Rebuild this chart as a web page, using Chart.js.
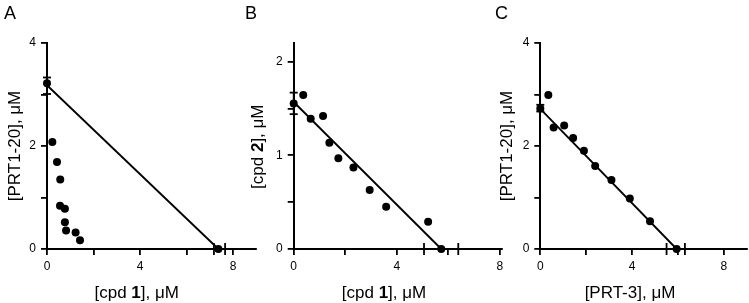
<!DOCTYPE html>
<html>
<head>
<meta charset="utf-8">
<script src="https://cdn.jsdelivr.net/npm/chart.js@4/dist/chart.umd.min.js"></script>
<style>
  html, body { margin: 0; padding: 0; background: #fff; }
  #wrap { position: relative; width: 749px; height: 303px; }
  #wrap canvas { position: absolute; left: 0; top: 0; }
</style>
</head>
<body>
<div id="wrap">
  <canvas id="chartA" width="749" height="303"></canvas>
  <canvas id="chartB" width="749" height="303"></canvas>
  <canvas id="chartC" width="749" height="303"></canvas>
</div>
<script>
// panel A: [PRT1-20] vs [cpd 1]
var xA = [0, 0.23, 0.43, 0.57, 0.56, 0.77, 0.77, 0.82, 1.23, 1.42, 7.37];
var yA = [3.22, 2.08, 1.69, 1.35, 0.84, 0.78, 0.52, 0.36, 0.32, 0.17, 0];
var fitA = [3.18, 7.37];          // y-intercept, x-intercept
var errYA = [3.01, 3.33];
var errXA = [7.18, 7.66];

// panel B: [cpd 2] vs [cpd 1]
var xB = [0, 0.37, 0.66, 1.14, 1.385, 1.735, 2.32, 2.95, 3.59, 5.22, 5.73];
var yB = [1.555, 1.645, 1.39, 1.42, 1.135, 0.97, 0.87, 0.63, 0.45, 0.29, 0];
var fitB = [1.57, 5.73];
var errYB = [1.44, 1.67];
var errXB = [5.06, 6.39];

// panel C: [PRT1-20] vs [PRT-3]
var xC = [0, 0.35, 0.58, 1.04, 1.43, 1.9, 2.39, 3.1, 3.9, 4.78, 5.94];
var yC = [2.73, 2.99, 2.36, 2.40, 2.155, 1.91, 1.61, 1.34, 0.98, 0.54, 0];
var fitC = [2.72, 5.94];
var errYC = [2.67, 2.80];
var errXC = [5.5, 6.3];

// ticks
var xTicks = [0, 2, 4, 6, 8];
var xTickLabels = [0, 4, 8];
var yTicksAC = [0, 1, 2, 3, 4];
var yTickLabelsAC = [0, 2, 4];
var yTicksB = [0, 0.5, 1, 1.5, 2];
var yTickLabelsB = [0, 1, 2];

var FONT = "'Liberation Sans', Arial, Helvetica, sans-serif";

function drawRich(ctx, item) {
  ctx.save();
  ctx.fillStyle = '#000';
  ctx.textBaseline = item.baseline || 'alphabetic';
  var widths = item.parts.map(function (p) {
    ctx.font = (p[1] ? 'bold ' : '') + item.size + 'px ' + FONT;
    return ctx.measureText(p[0]).width;
  });
  var total = widths.reduce(function (a, b) { return a + b; }, 0);
  ctx.translate(item.x, item.y);
  if (item.rot) ctx.rotate(item.rot);
  var cx = item.align === 'left' ? 0 : -total / 2;
  item.parts.forEach(function (p, i) {
    ctx.font = (p[1] ? 'bold ' : '') + item.size + 'px ' + FONT;
    ctx.fillText(p[0], cx, 0);
    cx += widths[i];
  });
  ctx.restore();
}

var richText = {
  id: 'richText',
  afterDraw: function (chart, args, opts) {
    (opts.items || []).forEach(function (it) { drawRich(chart.ctx, it); });
  }
};

function makePanel(id, p) {
  var pts = p.xs.map(function (x, i) { return { x: x, y: p.ys[i] }; });
  var black = '#000';
  return new Chart(document.getElementById(id), {
    type: 'scatter',
    data: {
      datasets: [
        {
          data: pts,
          pointRadius: 4,
          pointHoverRadius: 4,
          backgroundColor: black,
          borderWidth: 0,
          clip: false
        },
        {
          data: [{ x: 0, y: p.fit[0] }, { x: p.fit[1], y: 0 }],
          showLine: true,
          borderColor: black,
          borderWidth: 1.8,
          pointRadius: 0,
          clip: false
        },
        {
          data: [{ x: 0, y: p.errY[0] }, { x: 0, y: p.errY[1] }],
          showLine: true,
          borderColor: black,
          borderWidth: 1.8,
          pointStyle: 'line',
          pointRadius: 4,
          pointBorderWidth: 1.8,
          pointBorderColor: black,
          clip: false
        },
        {
          data: [{ x: p.errX[0], y: 0 }, { x: p.errX[1], y: 0 }],
          showLine: true,
          borderColor: black,
          borderWidth: 1.8,
          pointStyle: 'line',
          pointRotation: 90,
          pointRadius: 6,
          pointBorderWidth: 1.8,
          pointBorderColor: black,
          clip: false
        }
      ]
    },
    options: {
      responsive: false,
      animation: false,
      events: [],
      layout: {
        autoPadding: false,
        padding: { left: p.left, right: p.right, top: 43, bottom: 30 }
      },
      plugins: {
        legend: { display: false },
        tooltip: { enabled: false },
        richText: { items: p.texts }
      },
      scales: {
        x: {
          type: 'linear',
          min: 0,
          max: p.xMax,
          afterBuildTicks: function (s) { s.ticks = xTicks.map(function (v) { return { value: v }; }); },
          afterFit: function (s) { s.height = 24; },
          ticks: {
            autoSkip: false,
            maxRotation: 0,
            padding: 4,
            color: black,
            font: { family: FONT, size: 12 },
            callback: function (v) { return xTickLabels.indexOf(v) >= 0 ? String(v) : ''; }
          },
          grid: { drawOnChartArea: false, color: black, lineWidth: 1.8, tickLength: 6 },
          border: { color: black, width: 2 }
        },
        y: {
          type: 'linear',
          min: 0,
          max: p.yMax,
          afterBuildTicks: function (s) { s.ticks = p.yTicks.map(function (v) { return { value: v }; }); },
          afterFit: function (s) { s.width = 40; },
          ticks: {
            autoSkip: false,
            padding: 5,
            color: black,
            font: { family: FONT, size: 12 },
            callback: function (v) { return p.yTickLabels.indexOf(v) >= 0 ? String(v) : ''; }
          },
          grid: { drawOnChartArea: false, color: black, lineWidth: 1.8, tickLength: 6 },
          border: { color: black, width: 2 }
        }
      }
    },
    plugins: [richText]
  });
}

var up = -Math.PI / 2;

makePanel('chartA', {
  xs: xA, ys: yA, fit: fitA, errY: errYA, errX: errXA,
  xMax: 9, yMax: 4, yTicks: yTicksAC, yTickLabels: yTickLabelsAC,
  left: 7, right: 492.75,
  texts: [
    { x: 4, y: 19, size: 18, align: 'left', parts: [['A', 0]] },
    { x: 136.7, y: 298, size: 17, parts: [['[cpd ', 0], ['1', 1], ['], \u03bcM', 0]] },
    { x: 19.5, y: 146, size: 17, rot: up, parts: [['[PRT1-20], \u03bcM', 0]] }
  ]
});

makePanel('chartB', {
  xs: xB, ys: yB, fit: fitB, errY: errYB, errX: errXB,
  xMax: 8.1, yMax: 2.2, yTicks: yTicksB, yTickLabels: yTickLabelsB,
  left: 253.7, right: 246.7,
  texts: [
    { x: 245, y: 19, size: 18, align: 'left', parts: [['B', 0]] },
    { x: 384, y: 298, size: 17, parts: [['[cpd ', 0], ['1', 1], ['], \u03bcM', 0]] },
    { x: 263, y: 146.7, size: 17, rot: up, parts: [['[cpd ', 0], ['2', 1], ['], \u03bcM', 0]] }
  ]
});

makePanel('chartC', {
  xs: xC, ys: yC, fit: fitC, errY: errYC, errX: errXC,
  xMax: 9, yMax: 4, yTicks: yTicksAC, yTickLabels: yTickLabelsAC,
  left: 500.3, right: 2.1,
  texts: [
    { x: 495, y: 19, size: 18, align: 'left', parts: [['C', 0]] },
    { x: 630, y: 298, size: 17, parts: [['[PRT-3], \u03bcM', 0]] },
    { x: 512, y: 146, size: 17, rot: up, parts: [['[PRT1-20], \u03bcM', 0]] }
  ]
});
</script>
</body>
</html>
